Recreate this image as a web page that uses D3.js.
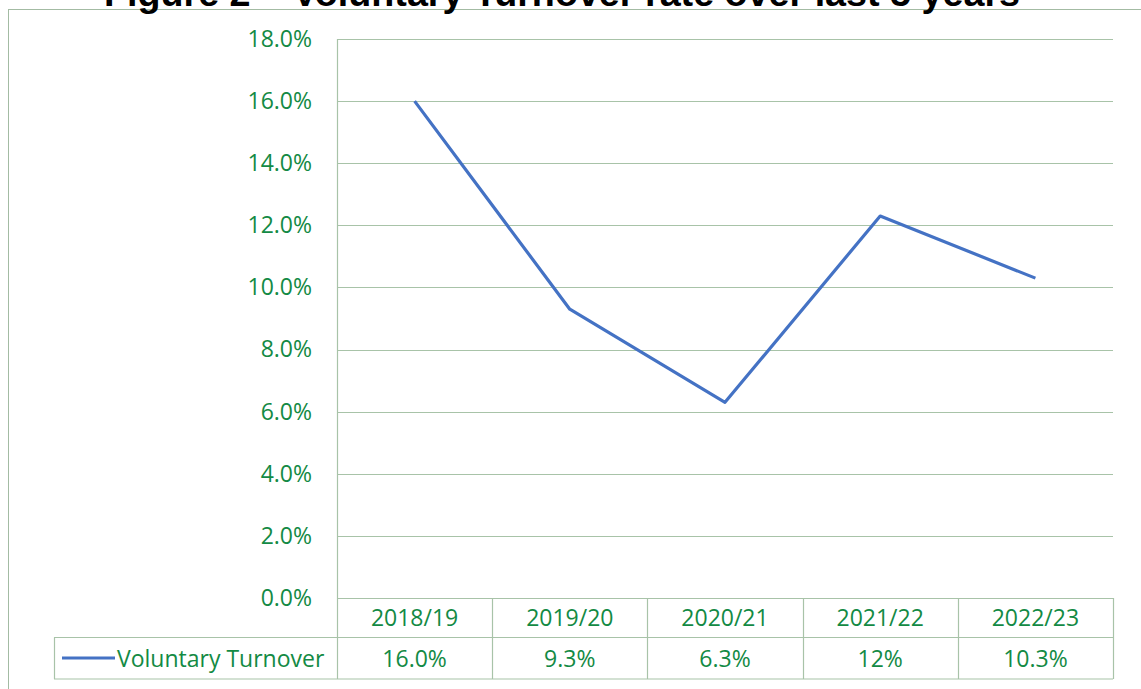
<!DOCTYPE html>
<html>
<head>
<meta charset="utf-8">
<script src="https://cdn.jsdelivr.net/npm/d3@7"></script>
<style>
  body { margin: 0; background: #fff; }
  svg { display: block; }
</style>
</head>
<body>
<div id="chart"></div>
<script>
var years = ['2018/19', '2019/20', '2020/21', '2021/22', '2022/23'];
var turnover = [16.0, 9.3, 6.3, 12.3, 10.3];
var tableLabels = ['16.0%', '9.3%', '6.3%', '12%', '10.3%'];
var yTicks = [0, 2, 4, 6, 8, 10, 12, 14, 16, 18];
var seriesName = 'Voluntary Turnover';
var title = 'Figure 2 \u2013 Voluntary Turnover rate over last 5 years';

var green = '#138a44';
var gridCol = '#a8c3a8';
var blue = '#4472c4';
var font = "'Open Sans', 'Noto Sans', sans-serif";
var fs = '23px';

var svg = d3.select('#chart').append('svg')
            .attr('width', 1141)
            .attr('height', 689);

// chart frame
svg.append('rect')
   .attr('x', 8.5).attr('y', 9.5)
   .attr('width', 1150).attr('height', 700)
   .attr('fill', 'none')
   .attr('stroke', '#a3bba3')
   .attr('stroke-width', 1);

svg.append('text')
   .attr('x', 562).attr('y', 6)
   .attr('text-anchor', 'middle')
   .style('font-family', "'Liberation Sans', Arial, sans-serif")
   .style('font-weight', 'bold')
   .style('font-size', '37.7px')
   .attr('fill', '#000')
   .text(title);

var x = d3.scaleBand().domain(years).range([337, 1113]);
var y = d3.scaleLinear().domain([0, 18]).range([598, 39]);

// gridlines
svg.append('g')
   .selectAll('line')
   .data(yTicks)
   .join('line')
   .attr('x1', 337).attr('x2', 1113)
   .attr('y1', d => Math.round(y(d)) + 0.5)
   .attr('y2', d => Math.round(y(d)) + 0.5)
   .attr('stroke', gridCol)
   .attr('stroke-width', 1.2);

svg.append('line')
   .attr('x1', 337.5).attr('x2', 337.5)
   .attr('y1', 39).attr('y2', 598)
   .attr('stroke', gridCol).attr('stroke-width', 1.2);

// y labels
var yAxis = d3.axisLeft(y).tickValues(yTicks).tickSize(0).tickPadding(0)
              .tickFormat(d => d.toFixed(1) + '%');
var ga = svg.append('g').attr('transform', 'translate(312,0)').call(yAxis);
ga.select('.domain').remove();
ga.selectAll('text')
  .attr('fill', green)
  .style('font-family', font)
  .style('font-size', fs);

// data table
var rowTop = 598, rowMid = 637.5, rowBot = 679;
var table = svg.append('g').attr('stroke', gridCol).attr('stroke-width', 1.2);
table.append('line').attr('x1', 337).attr('x2', 1113).attr('y1', rowTop + 0.5).attr('y2', rowTop + 0.5);
table.append('line').attr('x1', 54).attr('x2', 1113).attr('y1', rowMid).attr('y2', rowMid);
table.append('line').attr('x1', 54).attr('x2', 1113).attr('y1', rowBot).attr('y2', rowBot);
table.append('line').attr('x1', 54.5).attr('x2', 54.5).attr('y1', rowMid).attr('y2', rowBot);
table.selectAll('line.v')
     .data(years.map(d => x(d)).concat([x(years[years.length - 1]) + x.bandwidth()]))
     .join('line')
     .attr('class', 'v')
     .attr('x1', d => Math.round(d) + 0.5).attr('x2', d => Math.round(d) + 0.5)
     .attr('y1', rowTop).attr('y2', rowBot);

svg.append('g').selectAll('text')
   .data(years)
   .join('text')
   .attr('x', d => x(d) + x.bandwidth() / 2)
   .attr('y', 626)
   .attr('text-anchor', 'middle')
   .attr('fill', green)
   .style('font-family', font)
   .style('font-size', fs)
   .text(d => d);

svg.append('g').selectAll('text')
   .data(tableLabels)
   .join('text')
   .attr('x', (d, i) => x(years[i]) + x.bandwidth() / 2)
   .attr('y', 667)
   .attr('text-anchor', 'middle')
   .attr('fill', green)
   .style('font-family', font)
   .style('font-size', fs)
   .text(d => d);

// legend key
svg.append('line')
   .attr('x1', 62).attr('x2', 115)
   .attr('y1', 658).attr('y2', 658)
   .attr('stroke', blue).attr('stroke-width', 3);
svg.append('text')
   .attr('x', 117).attr('y', 667)
   .attr('fill', green)
   .style('font-family', font)
   .style('font-size', fs)
   .text(seriesName);

// the line
var line = d3.line()
             .x((d, i) => x(years[i]) + x.bandwidth() / 2)
             .y(d => y(d));
svg.append('path')
   .datum(turnover)
   .attr('d', line)
   .attr('fill', 'none')
   .attr('stroke', blue)
   .attr('stroke-width', 3.2)
   .attr('stroke-linejoin', 'round');
</script>
</body>
</html>
